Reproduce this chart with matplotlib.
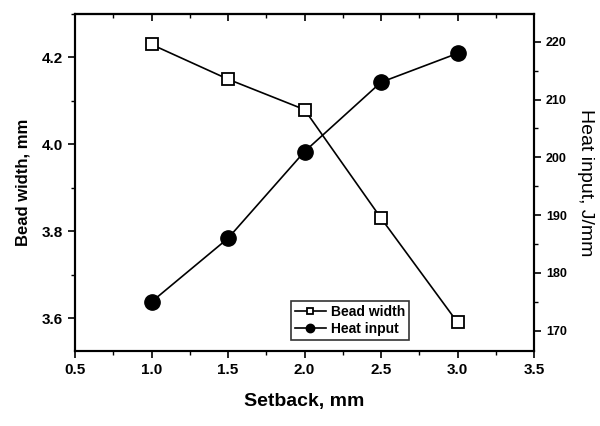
import numpy as np
import matplotlib
matplotlib.use('Agg')
import matplotlib.pyplot as plt
from matplotlib.ticker import MultipleLocator

plt.rcParams['font.family'] = ['Liberation Sans', 'DejaVu Sans']

# data
setback = [1.0, 1.5, 2.0, 2.5, 3.0]
bead_width = [4.23, 4.15, 4.08, 3.83, 3.59]
heat_input = [175, 186, 201, 213, 218]

fig = plt.figure(figsize=(6, 4.26), dpi=100)
ax = fig.add_axes([0.125, 0.176, 0.765, 0.791])
ax2 = ax.twinx()

l1, = ax.plot(setback, bead_width, color='black', lw=1.2, marker='s', ms=9,
              mfc='white', mec='black', mew=1.3, label='Bead width')
l2, = ax2.plot(setback, heat_input, color='black', lw=1.2, marker='o', ms=11,
               mfc='black', mec='black', label='Heat input')

ax.set_xlim(0.5, 3.5)
ax.set_ylim(3.524, 4.30)
ax2.set_ylim(166.5, 224.8)

ax.xaxis.set_major_locator(MultipleLocator(0.5))
ax.xaxis.set_minor_locator(MultipleLocator(0.25))
ax.yaxis.set_major_locator(MultipleLocator(0.2))
ax.yaxis.set_minor_locator(MultipleLocator(0.1))
ax2.yaxis.set_major_locator(MultipleLocator(10))
ax2.yaxis.set_minor_locator(MultipleLocator(5))

ax.set_xticks(np.arange(0.5, 3.51, 0.5))
ax.set_xticklabels([f'{v:.1f}' for v in np.arange(0.5, 3.51, 0.5)],
                   fontweight='bold', fontsize=11)
ax.set_yticks([3.6, 3.8, 4.0, 4.2])
ax.set_yticklabels(['3.6', '3.8', '4.0', '4.2'], fontweight='bold', fontsize=11)
ax2.set_yticks([170, 180, 190, 200, 210, 220])
ax2.set_yticklabels(['170', '180', '190', '200', '210', '220'],
                    fontweight='bold', fontsize=9)

ax.tick_params(axis='both', which='major', direction='out', length=5, width=1.2)
ax.tick_params(axis='both', which='minor', direction='out', length=3, width=1)
ax2.tick_params(which='major', direction='out', length=5, width=1.2)
ax2.tick_params(which='minor', direction='out', length=3, width=1)

# top ticks point inward, no labels
top = ax.secondary_xaxis('top')
top.xaxis.set_major_locator(MultipleLocator(0.5))
top.xaxis.set_minor_locator(MultipleLocator(0.25))
top.tick_params(which='major', direction='in', length=5, width=1.2, labeltop=False)
top.tick_params(which='minor', direction='in', length=3, width=1)

for a in (ax, ax2, top):
    for s in a.spines.values():
        s.set_linewidth(1.5)

ax.set_xlabel('Setback, mm', fontsize=14, fontweight='bold', labelpad=12)
ax.set_ylabel('Bead width, mm', fontsize=12, fontweight='bold', labelpad=8)
ax2.set_ylabel('Heat input, J/mm', fontsize=14, rotation=270, labelpad=20)

leg = ax.legend([l1, l2], ['Bead width', 'Heat input'], loc='lower left',
                bbox_to_anchor=(0.455, 0.012), frameon=True, fancybox=False,
                edgecolor='black', prop={'weight': 'bold', 'size': 10},
                markerscale=0.55, handlelength=2.2, borderpad=0.3,
                labelspacing=0.2, handletextpad=0.4)
leg.get_frame().set_linewidth(1.2)

fig.savefig('out.png', dpi=100)
